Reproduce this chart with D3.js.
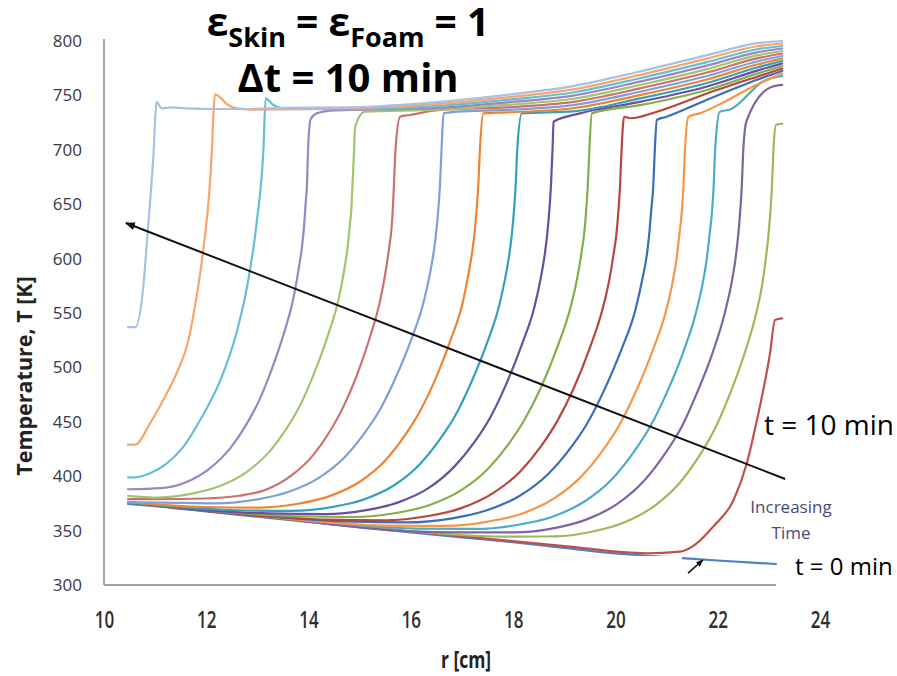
<!DOCTYPE html>
<html>
<head>
<meta charset="utf-8">
<script src="https://cdn.jsdelivr.net/npm/d3@7"></script>
<style>
  html, body { margin: 0; padding: 0; background: #ffffff; }
  svg { display: block; }
</style>
</head>
<body>
<svg id="chart" width="897" height="676"></svg>
<script>
// Axis ticks
const xTicks = [10, 12, 14, 16, 18, 20, 22, 24];
const yTicks = [300, 350, 400, 450, 500, 550, 600, 650, 700, 750, 800];

// Temperature profiles T(r), one per time step: [r (cm), T (K)]
const t0 = [[10.47,374.5],[11,372.4],[12,367.6],[13,362.8],[14,358],[15,353.1],[16,348.4],[17,343.8],[18,339.3],[19,334.2],[20,329],[21,325.8],[22,322.5],[23.14,319.3]];
const t1 = [[10.47,376],[13,363.8],[16,349.3],[19,335.8],[20.61,329.2],[21.26,330.6],[21.59,338.3],[21.91,353.6],[22.31,378.1],[22.57,411.9],[22.75,448],[22.89,479],[23.02,512],[23.12,543.6],[23.26,545]];
const t2 = [[10.47,376],[13,363.8],[16,349.3],[17.76,344.5],[18.82,344.7],[19.6,349.6],[20.18,357.7],[20.76,372.6],[21.25,393.5],[21.64,418.6],[21.93,442.2],[22.22,473.4],[22.52,512.1],[22.75,549.2],[22.88,579.1],[22.94,599.8],[22.99,620.5],[23.03,643.2],[23.06,665.8],[23.09,700],[23.14,723],[23.26,724]];
const t3 = [[10.47,376],[13,363.8],[16,349.3],[16.89,348.4],[18.01,348.3],[18.83,352.5],[19.44,360.3],[20.05,375],[20.56,395.8],[20.97,420.7],[21.28,444],[21.58,475],[21.9,513.4],[22.14,550.3],[22.28,580],[22.35,600.5],[22.4,621.1],[22.44,643.5],[22.47,666.1],[22.5,700],[22.53,718],[22.57,727.4],[23.06,758],[23.26,759.6]];
const t4 = [[10.47,376],[13,363.8],[16.12,351.9],[17.29,351.5],[18.13,355.6],[18.77,362.8],[19.41,377.2],[19.94,397.7],[20.36,422.4],[20.68,445.7],[21,476.4],[21.33,514.6],[21.58,551.2],[21.72,580.7],[21.79,601],[21.84,621.6],[21.89,643.9],[21.92,666.3],[21.95,700],[22.04,735],[22.24,737],[22.93,764],[23.26,768]];
const t5 = [[10.47,376],[13,363.8],[15.48,354.6],[16.65,354.3],[17.51,358.3],[18.15,365.3],[18.79,379.3],[19.33,399.6],[19.76,424.2],[20.08,447.3],[20.4,477.8],[20.73,515.7],[20.99,552],[21.13,581.4],[21.2,601.6],[21.25,622],[21.3,644.2],[21.33,666.5],[21.36,700],[21.43,730.4],[21.65,733.5],[22.14,744.2],[22.77,760],[23.26,770]];
const t6 = [[10.47,376],[13,363.8],[14.72,358.5],[15.93,357.5],[16.81,361.3],[17.47,368.4],[18.13,382],[18.68,401.8],[19.12,425.8],[19.45,448.7],[19.78,479.1],[20.12,516.7],[20.39,552.8],[20.53,581.9],[20.61,602],[20.66,622.2],[20.7,644.3],[20.74,666.4],[20.77,700],[20.81,727.4],[21,730.4],[21.79,746],[22.77,764.4],[23.26,772.4]];
const t7 = [[10.47,376],[13,363.8],[14.35,360.1],[15.5,359.5],[16.34,363.4],[16.97,370.4],[17.6,384.2],[18.13,403.9],[18.55,427.8],[18.86,450.4],[19.18,480.4],[19.5,518],[19.75,553.9],[19.89,582.9],[19.96,602.9],[20.02,623],[20.06,644.9],[20.09,666.9],[20.12,700],[20.17,730.4],[20.29,729],[20.81,735],[21.79,751.8],[22.77,767.2],[23.26,774.7]];
const t8 = [[10.47,376],[12,368.5],[13.72,363.2],[14.87,362.5],[15.71,366.2],[16.34,373.1],[16.97,386.7],[17.5,406.4],[17.92,430.2],[18.23,452.6],[18.55,482.2],[18.87,519.3],[19.12,554.8],[19.26,583.7],[19.33,603.6],[19.39,623.5],[19.43,645.3],[19.46,667.2],[19.49,700],[19.54,733.5],[20.48,741],[21.79,755],[22.77,770],[23.26,777]];
const t9 = [[10.47,376],[12,368.6],[13.21,365.8],[14.33,365.1],[15.13,368.8],[15.74,375.7],[16.35,389.2],[16.85,408.8],[17.26,432.4],[17.56,454.7],[17.86,484.2],[18.17,521],[18.42,556.2],[18.55,584.7],[18.62,604.4],[18.67,624.2],[18.71,645.8],[18.74,667.5],[18.77,700],[18.79,725.8],[19.31,733.5],[20.48,744.1],[21.79,758.2],[22.77,772.8],[23.26,779.3]];
const t10 = [[10.47,376],[11.5,371.5],[12.58,368.7],[13.68,368.1],[14.48,371.8],[15.08,378.6],[15.68,391.9],[16.18,411.3],[16.58,434.7],[16.88,456.7],[17.18,486.1],[17.49,522.5],[17.73,557.4],[17.86,585.7],[17.93,605.2],[17.98,624.8],[18.02,646.2],[18.05,667.8],[18.08,700],[18.17,733.5],[19.17,735.3],[20.48,747.2],[21.79,761.4],[22.77,775.6],[23.26,781.6]];
const t11 = [[10.47,376.2],[11.96,371.7],[13.04,371.2],[13.82,374.9],[14.41,381.7],[15,394.9],[15.49,414],[15.88,437.2],[16.17,459],[16.47,488.1],[16.77,524.2],[17.01,558.9],[17.13,586.9],[17.2,606.3],[17.25,625.7],[17.29,647],[17.32,668.3],[17.35,700],[17.42,733.5],[17.88,734.4],[19.17,738.2],[20.48,750.3],[21.79,764.6],[22.77,778.4],[23.26,783.9]];
const t12 = [[10.47,376],[11.1,375.8],[12.2,375.1],[13,378.7],[13.6,385.4],[14.2,398.4],[14.7,417.1],[15.1,440],[15.4,461.5],[15.7,490.2],[16.01,525.9],[16.25,560.1],[16.38,587.8],[16.45,607],[16.5,626.2],[16.54,647.2],[16.57,668.3],[16.6,700],[16.64,733.5],[16.9,735],[17.88,736.7],[19.17,741.1],[20.48,753.4],[21.79,767.8],[22.77,781.2],[23.26,786.2]];
const t13 = [[10.47,379],[11.03,379],[11.96,379.5],[12.64,382],[13.15,387.3],[13.66,400.5],[14.09,419.4],[14.43,442.2],[14.68,463.7],[14.94,492.2],[15.2,527.7],[15.4,561.6],[15.51,589.1],[15.57,608],[15.62,626.9],[15.65,647.8],[15.67,668.6],[15.7,700],[15.79,730.4],[15.98,732],[16.57,736.6],[17.88,739],[19.17,744],[20.48,756.5],[21.79,771],[22.77,784],[23.26,788.5]];
const t14 = [[10.47,382],[11.06,380.4],[11.76,384.4],[12.28,391.2],[12.8,404.3],[13.24,422.8],[13.59,445.3],[13.85,466.6],[14.11,494.7],[14.38,529.7],[14.59,563.2],[14.7,590.4],[14.76,609.1],[14.8,627.9],[14.84,648.4],[14.86,669.1],[14.89,700],[14.91,721.2],[15.1,735],[16.56,736.8],[17.88,741.3],[19.17,746.9],[20.48,759.6],[21.79,774.2],[22.77,786.8],[23.26,790.8]];
const t15 = [[10.47,388],[11.11,389],[11.59,394.2],[12.07,407.2],[12.47,425.8],[12.79,448.1],[13.03,469.2],[13.27,497],[13.52,531.7],[13.71,564.9],[13.81,591.7],[13.87,610.2],[13.91,628.7],[13.94,649],[13.97,669.4],[13.99,700],[14.04,728],[14.16,733.5],[14.42,736],[14.81,736.6],[16.56,738.6],[17.88,743.6],[19.17,749.8],[20.48,762.7],[21.79,777.4],[22.77,789.6],[23.26,793.1]];
const t16 = [[10.47,399],[10.61,399],[10.9,402.7],[11.23,411.8],[11.55,427],[11.88,451.6],[12.3,491],[12.59,531.6],[12.82,580],[12.99,635],[13.12,703],[13.16,747.3],[13.31,741.2],[13.6,737.5],[14.81,737.4],[16.56,740.4],[17.88,745.9],[19.17,752.7],[20.48,765.8],[21.79,780.6],[22.77,792.4],[23.26,795.4]];
const t17 = [[10.47,429],[10.61,429],[10.9,448.6],[11.23,476.5],[11.42,494.6],[11.65,525],[11.81,565],[11.94,608],[12.11,700],[12.14,733],[12.17,751],[12.43,741],[12.6,738],[12.85,737],[14.81,738.2],[16.56,742.2],[17.88,748.2],[19.17,755.6],[20.48,768.9],[21.79,783.8],[22.77,795.2],[23.26,797.7]];
const t18 = [[10.47,537],[10.61,537],[10.77,575],[10.85,622],[10.96,690],[11.03,744],[11.13,738],[11.3,739],[11.6,738],[12.2,737.5],[12.85,737.5],[13.5,738.5],[14.81,739],[16.56,744],[17.88,750.5],[19.17,758.5],[20.48,772],[21.79,787],[22.77,798],[23.26,800]];

const profiles = [t0, t1, t2, t3, t4, t5, t6, t7, t8, t9, t10, t11, t12, t13, t14, t15, t16, t17, t18];
const profileColors = ["#4F81BD", "#C0504D", "#9BBB59", "#8064A2", "#4BACC6", "#F79646",
                       "#3B6DB8", "#B8463F", "#86AE48", "#6B4E9E", "#35A0BD", "#EE8331",
                       "#7DA0D8", "#C97270", "#A3C46F", "#9A86C2", "#64BFD6", "#F9A56A", "#A8C0E3"];

// Annotation geometry in data units [r, T]
const timeArrow = [[23.32, 397.4], [10.43, 632.7]];
const startArrow = [[21.42, 311], [21.71, 323]];
const coverBox = [[19.70, 326.7], [21.30, 303.7]];

const svg = d3.select("#chart");
const x = d3.scaleLinear().domain([10, 24]).range([104, 820]);
const y = d3.scaleLinear().domain([300, 800]).range([585, 41]);

const FONT = "'Open Sans', 'DejaVu Sans', sans-serif";

// Arrowhead markers
const defs = svg.append("defs");
defs.append("marker")
  .attr("id", "head")
  .attr("viewBox", "0 0 10 8")
  .attr("refX", 9).attr("refY", 4)
  .attr("markerWidth", 10).attr("markerHeight", 8)
  .attr("markerUnits", "userSpaceOnUse")
  .attr("orient", "auto")
  .append("path").attr("d", "M0,0 L10,4 L0,8 Z").attr("fill", "#111");
defs.append("marker")
  .attr("id", "headSmall")
  .attr("viewBox", "0 0 10 8")
  .attr("refX", 9).attr("refY", 4)
  .attr("markerWidth", 8).attr("markerHeight", 6)
  .attr("markerUnits", "userSpaceOnUse")
  .attr("orient", "auto")
  .append("path").attr("d", "M0,0 L10,4 L0,8 Z").attr("fill", "#111");

// Y axis labels
const gy = svg.append("g")
  .attr("transform", `translate(${x(10)},0)`)
  .call(d3.axisLeft(y).tickValues(yTicks).tickSize(0).tickPadding(22));
gy.attr("font-family", null).attr("font-size", null);
gy.select(".domain").remove();
gy.selectAll("text")
  .attr("font-family", FONT)
  .attr("font-size", 17)
  .attr("fill", "#383848");

// X axis labels
const gx = svg.append("g")
  .attr("transform", `translate(0,${y(300)})`)
  .call(d3.axisBottom(x).tickValues(xTicks).tickSize(0).tickFormat(d3.format("d")));
gx.attr("font-family", null).attr("font-size", null);
gx.select(".domain").remove();
gx.selectAll("text")
  .attr("y", 43)
  .attr("dy", null)
  .attr("transform", "scale(0.74,1)")
  .attr("font-family", FONT)
  .attr("font-size", 23)
  .attr("font-weight", 600)
  .attr("fill", "#2e2e2e");

// Plot frame (left and bottom edges)
svg.append("line")
  .attr("x1", x(10)).attr("x2", x(10))
  .attr("y1", y(800) - 2).attr("y2", y(300))
  .attr("stroke", "#a2a2a2").attr("stroke-width", 2);
svg.append("line")
  .attr("x1", x(10)).attr("x2", x(23.14))
  .attr("y1", y(300)).attr("y2", y(300))
  .attr("stroke", "#a2a2a2").attr("stroke-width", 2);

// Profiles
const line = d3.line().curve(d3.curveMonotoneX).x(d => x(d[0])).y(d => y(d[1]));
svg.append("g")
  .selectAll("path")
  .data(profiles)
  .join("path")
  .attr("d", d => line(d))
  .attr("fill", "none")
  .attr("stroke", (d, i) => profileColors[i])
  .attr("stroke-width", 2.2)
  .attr("stroke-linejoin", "round")
  .attr("stroke-linecap", "round");

// Patch over the lower-right corner of the plot
svg.append("rect")
  .attr("x", x(coverBox[0][0]))
  .attr("y", y(coverBox[0][1]))
  .attr("width", x(coverBox[1][0]) - x(coverBox[0][0]))
  .attr("height", y(coverBox[1][1]) - y(coverBox[0][1]))
  .attr("fill", "#ffffff");

// Increasing-time arrow
svg.append("line")
  .attr("x1", x(timeArrow[0][0])).attr("y1", y(timeArrow[0][1]))
  .attr("x2", x(timeArrow[1][0])).attr("y2", y(timeArrow[1][1]))
  .attr("stroke", "#111").attr("stroke-width", 2)
  .attr("marker-end", "url(#head)");

// Pointer to the initial profile
svg.append("line")
  .attr("x1", x(startArrow[0][0])).attr("y1", y(startArrow[0][1]))
  .attr("x2", x(startArrow[1][0])).attr("y2", y(startArrow[1][1]))
  .attr("stroke", "#111").attr("stroke-width", 1.6)
  .attr("marker-end", "url(#headSmall)");

// Title
const title1 = svg.append("text")
  .attr("x", 348).attr("y", 36)
  .attr("text-anchor", "middle")
  .attr("font-family", FONT).attr("font-weight", 700)
  .attr("font-size", 39).attr("fill", "#000");
title1.append("tspan").text("ε");
title1.append("tspan").attr("font-size", 27).attr("dy", 11).text("Skin");
title1.append("tspan").attr("dy", -11).text(" = ε");
title1.append("tspan").attr("font-size", 27).attr("dy", 11).text("Foam");
title1.append("tspan").attr("dy", -11).text(" = 1");

svg.append("text")
  .attr("x", 348).attr("y", 92)
  .attr("text-anchor", "middle")
  .attr("font-family", FONT).attr("font-weight", 700)
  .attr("font-size", 40).attr("fill", "#000")
  .text("Δt = 10 min");

// Axis titles
svg.append("text")
  .attr("transform", "translate(32,376) rotate(-90)")
  .attr("text-anchor", "middle")
  .attr("font-family", FONT).attr("font-weight", 700)
  .attr("font-size", 21.5).attr("fill", "#222")
  .text("Temperature, T [K]");

svg.append("text")
  .attr("transform", "translate(466,668) scale(0.76,1)")
  .attr("text-anchor", "middle")
  .attr("font-family", FONT).attr("font-weight", 700)
  .attr("font-size", 23).attr("fill", "#222")
  .text("r [cm]");

// Time labels
svg.append("text")
  .attr("x", 764).attr("y", 435)
  .attr("font-family", FONT).attr("font-size", 28).attr("fill", "#000")
  .text("t = 10 min");

svg.append("text")
  .attr("x", 795).attr("y", 575)
  .attr("font-family", FONT).attr("font-size", 24).attr("fill", "#000")
  .text("t = 0 min");

const inc = svg.append("text")
  .attr("text-anchor", "middle")
  .attr("font-family", FONT).attr("font-size", 17).attr("fill", "#4b4a78");
inc.append("tspan").attr("x", 791).attr("y", 513).text("Increasing");
inc.append("tspan").attr("x", 791).attr("y", 539).text("Time");
</script>
</body>
</html>
